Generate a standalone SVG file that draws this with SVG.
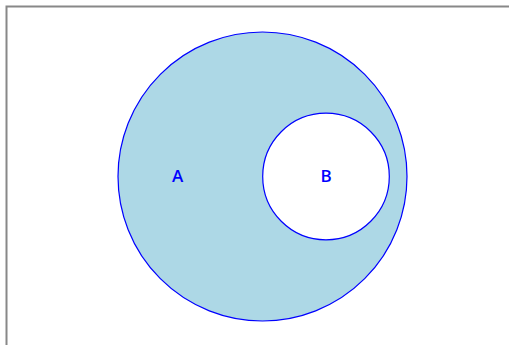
<svg xmlns="http://www.w3.org/2000/svg" width="509" height="345" viewBox="0 0 509 345">
<style>
.lbl{font-family:"Open Sans","Liberation Sans",sans-serif;font-size:17px;font-weight:600;fill:#0000ff;text-anchor:middle}
.set{stroke:#0000ff;stroke-width:1.2}
</style>
<rect x="0" y="0" width="509" height="345" fill="#ffffff"/>
<path d="M6.5 345 V6.5 H509" fill="none" stroke="#888888" stroke-width="2"/>
<g id="A">
<circle class="set" cx="262.5" cy="176.5" r="144.5" fill="#add8e6"/>
<text class="lbl" x="177.5" y="182">A</text>
</g>
<g id="B">
<circle class="set" cx="326" cy="176.5" r="63.3" fill="#ffffff"/>
<text class="lbl" x="326" y="182">B</text>
</g>
<g id="connectors"></g>
</svg>
